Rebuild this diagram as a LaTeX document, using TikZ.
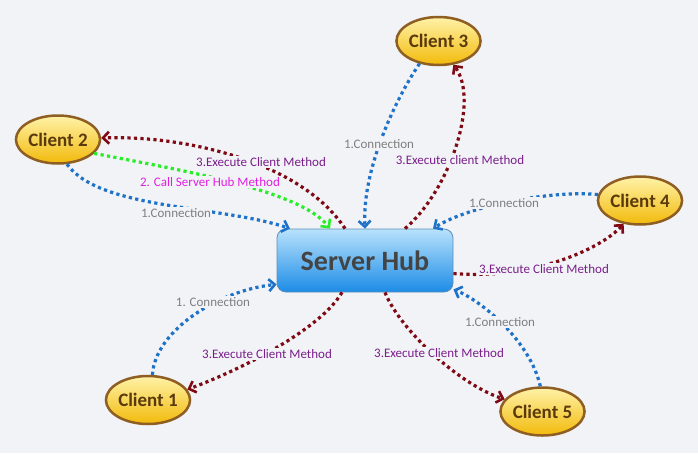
\documentclass[tikz,border=0pt]{standalone}
\usepackage{fontspec}
\setmainfont{Carlito}
\usetikzlibrary{shapes.geometric,arrows.meta}
\definecolor{bg}{HTML}{F2F3F7}
\definecolor{cblue}{HTML}{1E72C8}
\definecolor{cred}{HTML}{800A14}
\definecolor{cgreen}{HTML}{28EE28}
\definecolor{lgray}{HTML}{7F7F7F}
\definecolor{lpurple}{HTML}{7A1F8A}
\definecolor{lmagenta}{HTML}{E020E0}
\definecolor{ctop}{HTML}{FFF2A8}
\definecolor{cbot}{HTML}{F2BA0A}
\definecolor{cborder}{HTML}{8E5E22}
\definecolor{ctext}{HTML}{5A3A0C}
\definecolor{htop}{HTML}{B8E2FC}
\definecolor{hbot}{HTML}{1C8CE6}
\definecolor{hborder}{HTML}{5F8DB8}
\definecolor{htext}{HTML}{444444}
\tikzset{
  client/.style={ellipse, minimum width=82pt, minimum height=48pt, inner sep=0pt,
    draw=cborder, line width=2.5pt, top color=ctop, bottom color=cbot,
    text=ctext, font=\bfseries\fontsize{19}{19}\selectfont},
  hubbox/.style={rectangle, rounded corners=9pt, minimum width=176pt, minimum height=63pt,
    draw=hborder, line width=0.8pt, top color=htop, bottom color=hbot,
    text=htext, font=\bfseries\fontsize{28}{28}\selectfont},
  conn/.style={line width=3.2pt, dash pattern=on 3.2pt off 3.3pt,
    -{Straight Barb[length=6pt,width=12pt,line width=2.6pt]}},
  bconn/.style={conn, draw=cblue},
  rconn/.style={conn, draw=cred},
  gconn/.style={conn, draw=cgreen},
  lbl/.style={fill=bg, inner sep=1pt, font=\fontsize{13}{13}\selectfont},
  lgr/.style={lbl, text=lgray},
  lpu/.style={lbl, text=lpurple},
  lma/.style={lbl, text=lmagenta},
}
\begin{document}
\begin{tikzpicture}[x=1pt,y=-1pt]
\fill[bg] (0,0) rectangle (698,453);
\useasboundingbox (0,0) rectangle (698,453);

\node[hubbox] (hub) at (365,260.5) {Server Hub};
\node[client] (c1) at (148,400) {Client 1};
\node[client] (c2) at (58,139.5) {Client 2};
\node[client] (c3) at (438.5,41) {Client 3};
\node[client] (c4) at (640,200.5) {Client 4};
\node[client] (c5) at (542.5,411.5) {Client 5};

% Client 2
\draw[bconn] (c2.-70) .. controls (100,210) and (220,205) .. ([xshift=-75pt]hub.north);
\draw[gconn] (c2.-21) .. controls (180,170) and (300,190) .. ([xshift=-35pt]hub.north);
\draw[rconn] ([xshift=-20pt]hub.north) .. controls (300,160) and (180,135) .. (c2.2);
% Client 3
\draw[bconn] (c3.-130) .. controls (395,100) and (362,170) .. (hub.north);
\draw[rconn] ([xshift=40pt]hub.north) .. controls (450,190) and (480,100) .. (c3.-58);
% Client 4
\draw[bconn] (c4.172) .. controls (555,190) and (470,205) .. ([xshift=68pt]hub.north);
\draw[rconn] ([yshift=-13pt]hub.east) .. controls (530,280) and (600,250) .. (c4.-125);
% Client 1
\draw[bconn] (c1.80) .. controls (155,330) and (220,290) .. ([yshift=8pt]hub.south west);
\draw[rconn] ([xshift=-23pt]hub.south) .. controls (320,330) and (240,370) .. (c1.15);
% Client 5
\draw[bconn] (c5.95) .. controls (530,340) and (480,300) .. ([yshift=3pt]hub.south east);
\draw[rconn] ([xshift=20pt]hub.south) .. controls (400,330) and (460,385) .. (c5.162);

% labels
\node[lgr] (l21) at (176,213) {1.Connection};
\node[lma] (l22) at (210,182) {2. Call Server Hub Method};
\node[lpu] (l23) at (261,162) {3.Execute Client Method};
\node[lgr] (l31) at (379,144) {1.Connection};
\node[lpu] (l33) at (460,160) {3.Execute client Method};
\node[lgr] (l41) at (504,203) {1.Connection};
\node[lpu] (l43) at (544,269) {3.Execute Client Method};
\node[lgr] (l11) at (213,302) {1. Connection};
\node[lpu] (l13) at (267,354) {3.Execute Client Method};
\node[lgr] (l51) at (500,322) {1.Connection};
\node[lpu] (l53) at (439,353) {3.Execute Client Method};
\end{tikzpicture}
\end{document}
